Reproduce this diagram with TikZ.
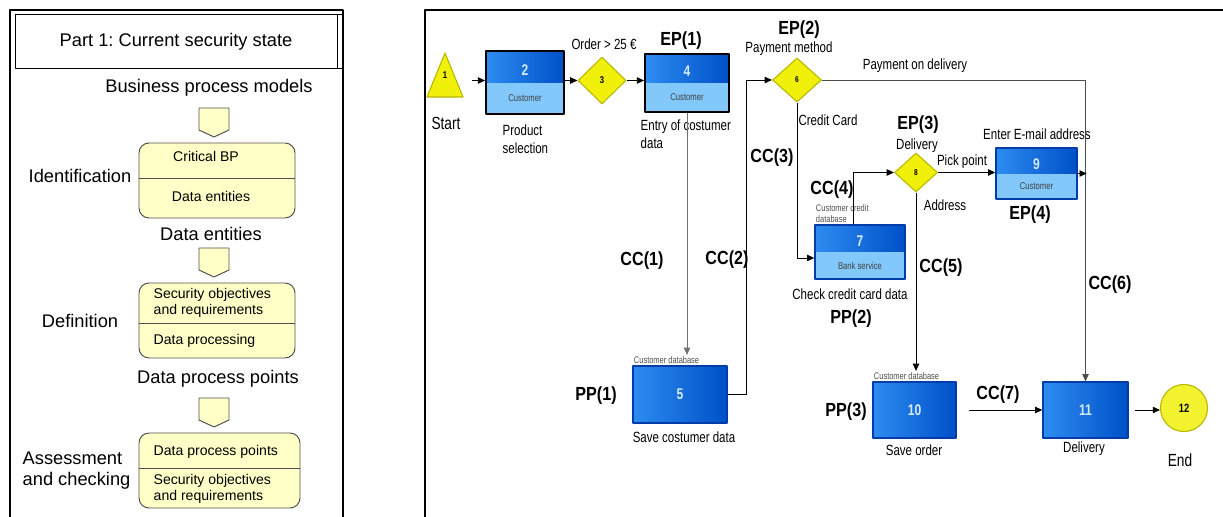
\documentclass[tikz,border=0pt]{standalone}
\usepackage{fontspec}
\setmainfont{Liberation Sans}
\newfontfamily\narrowfont[FakeStretch=0.78]{Liberation Sans}
\newfontfamily\tagfamily[FakeStretch=0.85]{Liberation Sans}
\usetikzlibrary{shapes.geometric,arrows.meta}
\definecolor{paleyellow}{RGB}{255,255,200}
\definecolor{stagegray}{RGB}{80,80,80}
\definecolor{gateyellow}{RGB}{240,240,10}
\definecolor{gateolive}{RGB}{185,185,0}
\definecolor{blueA}{RGB}{45,140,240}
\definecolor{blueB}{RGB}{0,80,200}
\definecolor{bluepale}{RGB}{130,200,250}
\definecolor{bluenavy}{RGB}{0,60,170}
\definecolor{numblue}{RGB}{215,235,255}
\def\px{0.025cm}
\frenchspacing
\begin{document}
\begin{tikzpicture}[x=\px,y=-\px,>={Triangle[length=1.8mm,width=1.6mm]},line join=round,
    font=\fontsize{10.5}{12.8}\narrowfont,
    frame/.style={line width=1.5pt},
    big/.style={font=\normalfont\fontsize{13}{15}\selectfont,inner sep=1pt},
    plain/.style={font=\normalfont\fontsize{10}{11.3}\selectfont,inner sep=1pt},
    stage/.style={draw=stagegray,fill=paleyellow,line width=0.7pt,rounded corners=0.25cm},
    chevron/.style={draw=stagegray,fill=paleyellow,line width=0.7pt},
    txt/.style={inner sep=1pt},
    endtxt/.style={font=\fontsize{12.5}{14}\narrowfont,inner sep=1pt},
    tag/.style={font=\fontsize{13.5}{15}\tagfamily\bfseries,inner sep=1pt},
    tiny/.style={font=\fontsize{6.8}{7.8}\narrowfont,text=black!70,inner sep=1pt,align=left},
    num/.style={font=\fontsize{11}{11}\narrowfont\bfseries,text=numblue,inner sep=0},
    sub/.style={font=\fontsize{7}{7}\narrowfont,text=black!75,inner sep=0},
    gate/.style={diamond,draw=gateolive,fill=gateyellow,line width=0.8pt,inner sep=0,font=\fontsize{6}{6}\narrowfont\bfseries},
    task/.style n args={4}{draw=bluenavy,line width=1pt,minimum width=#1*\px,minimum height=#2*\px,inner sep=0,
        path picture={\fill[bluepale] (path picture bounding box.west) rectangle (path picture bounding box.south east);
            \shade[left color=blueA,right color=blueB] (path picture bounding box.north west) rectangle (path picture bounding box.east);},
        label={[num,yshift=(#2/4-3)*\px]center:#3},label={[sub,yshift=-#2/4*\px]center:#4}},
    full/.style 2 args={draw=bluenavy,line width=1pt,minimum width=#1*\px,minimum height=#2*\px,inner sep=0,
        left color=blueA,right color=blueB,font=\fontsize{11}{11}\narrowfont\bfseries,text=numblue},
    start/.style={minimum width=40*\px,minimum height=48*\px,inner sep=0,font=\fontsize{7}{7}\narrowfont\bfseries,
        path picture={\filldraw[draw=gateolive,fill=gateyellow,line width=0.8pt] ([yshift=-2*\px]path picture bounding box.north)
            -- ([xshift=-2*\px,yshift=2*\px]path picture bounding box.south east)
            -- ([xshift=2*\px,yshift=2*\px]path picture bounding box.south west) -- cycle;}},
    finish/.style={circle,draw=gateolive,fill=gateyellow!85!white,line width=0.8pt,minimum size=47*\px,inner sep=0,font=\fontsize{8.5}{8.5}\narrowfont\bfseries},
    flow/.style={->,line width=0.6pt}]
\useasboundingbox (0,0) rectangle (1223,517);
% Part 1 panel
\draw[frame] (10,10) rectangle (343,530);
\draw[line width=0.5pt] (15,14) rectangle (343,68) (337,14) -- (337,68);
\node[big] (title) at (176,42) {Part 1: Current security state};
\node[big] (bpm) at (209,88) {Business process models};
\foreach \y in {108,248,398}
    \draw[chevron] (199,\y) -- (229,\y) -- (229,\y+22) -- (214,\y+29) -- (199,\y+22) -- cycle;
\draw[stage] (139,143) rectangle (295,218);
\draw[stagegray,line width=0.7pt] (139,178) -- (295,178);
\node[plain] (critbp) at (206,156) {Critical BP};
\node[plain] (dataent) at (211,196) {Data entities};
\node[big] (identlbl) at (80,176) {Identification};
\node[big] (dataentlbl) at (211,234) {Data entities};
\draw[stage] (139,283) rectangle (295,358);
\draw[stagegray,line width=0.7pt] (139,323) -- (295,323);
\node[plain,anchor=west,align=left] (secobj) at (152,303) {Security objectives\\and requirements};
\node[plain,anchor=west] (dataproc) at (152,341) {Data processing};
\node[big] (deflbl) at (80,321) {Definition};
\node[big] (dpplbl) at (218,379) {Data process points};
\draw[stage] (139,433) rectangle (300,508);
\draw[stagegray,line width=0.7pt] (139,468) -- (300,468);
\node[plain,anchor=west] (dpp) at (152,452) {Data process points};
\node[plain,anchor=west,align=left] (secreq) at (152,489) {Security objectives\\and requirements};
\node[big,anchor=west,align=left] (asslbl) at (21,471) {Assessment\\and checking};
% process panel
\draw[frame] (1230,10) -| (425,530);
\node[start] (n1) at (445,75) {1};
\node[task={78}{63}{2}{Customer},draw=black,line width=1.3pt] (b2) at (525,82.5) {};
\node[gate,minimum width=48*\px,minimum height=47*\px,font=\fontsize{7}{7}\narrowfont\bfseries] (n3) at (602,80.5) {3};
\node[task={84}{58}{4}{Customer},draw=black,line width=1.3pt] (b4) at (687,83) {};
\node[full={94}{57}] (b5) at (680,394.5) {5};
\node[gate,minimum width=49*\px,minimum height=44*\px] (n6) at (797,80) {6};
\node[task={90}{54}{7}{Bank service}] (b7) at (860,252) {};
\node[gate,minimum width=43*\px,minimum height=39*\px] (n8) at (916,172.5) {8};
\node[task={81}{51}{9}{Customer}] (b9) at (1036.5,173.5) {};
\node[full={83}{56}] (b10) at (914.5,410) {10};
\node[full={85}{56}] (b11) at (1085.5,410) {11};
\node[finish] (n12) at (1184,408) {12};
\node[endtxt] (startlbl) at (446,123) {Start};
\node[txt,anchor=west,align=left] (prodsel) at (501,139) {Product\\selection};
\node[txt] (order) at (604,44) {Order > 25 €};
\node[tag] (ep1) at (681,41) {EP(1)};
\node[txt,anchor=west,align=left] (entry) at (639,134) {Entry of costumer\\data};
\node[tiny,anchor=south west] (db5) at (b5.north west) {Customer database};
\node[txt] (savecust) at (684,437) {Save costumer data};
\node[tag] (pp1) at (596,396) {PP(1)};
\node[tag] (cc1) at (642,261) {CC(1)};
\node[tag] (cc2) at (727,260) {CC(2)};
\node[tag] (cc3) at (772,158) {CC(3)};
\node[tag] (ep2) at (799,30) {EP(2)};
\node[txt] (paymeth) at (789,49) {Payment method};
\node[txt] (payondel) at (915,66) {Payment on delivery};
\node[txt] (credit) at (828,120) {Credit Card};
\node[tiny,anchor=south west] (db7) at (b7.north west) {Customer credit\\database};
\node[tag] (cc4) at (832,190) {CC(4)};
\node[txt] (checkcc) at (850,294) {Check credit card data};
\node[tag] (pp2) at (851,319) {PP(2)};
\node[tag] (ep3) at (918,125) {EP(3)};
\node[txt] (delivgate) at (917,146) {Delivery};
\node[txt] (pick) at (962,162) {Pick point};
\node[txt] (addr) at (945,205) {Address};
\node[tag] (cc5) at (941,268) {CC(5)};
\node[txt] (email) at (1037,134) {Enter E-mail address};
\node[tag] (ep4) at (1030,215) {EP(4)};
\node[tag] (cc6) at (1110,285) {CC(6)};
\node[tiny,anchor=south west] (db10) at (b10.north west) {Customer database};
\node[txt] (saveord) at (914,450) {Save order};
\node[tag] (pp3) at (846,412) {PP(3)};
\node[tag] (cc7) at (998,395) {CC(7)};
\node[txt] (delivlbl) at (1084,449) {Delivery};
\node[endtxt] (endlbl) at (1180,460) {End};
% connectors
\draw[flow,shorten <=7*\px] (n1.east |- n3) -- (b2.west |- n3);
\draw[flow] (b2.east |- n3) -- (n3.west);
\draw[flow] (n3.east) -- (b4.west |- n3);
\draw[flow,black!55] (b4.south) -- (b4.south |- db5.north);
\draw[flow] (b5.east) -- ++(19,0) |- (n6.west);
\draw[flow,black!70] (n6.east) -| (b11.north);
\draw[flow] (n6.south) |- ([yshift=-6*\px]b7.west);
\draw[flow] ([xshift=-7*\px]b7.north) |- (n8.west);
\draw[flow] (n8.east) -- (b9.west |- n8);
\draw[flow] (n8.south) -- (n8.south |- db10.north);
\draw[flow] (b9.east) -- ++(9,0);
\draw[flow,shorten <=12*\px] (b10.east) -- (b11.west);
\draw[flow,shorten <=6*\px] (b11.east) -- (b11.east -| n12.west);
\end{tikzpicture}
\end{document}
